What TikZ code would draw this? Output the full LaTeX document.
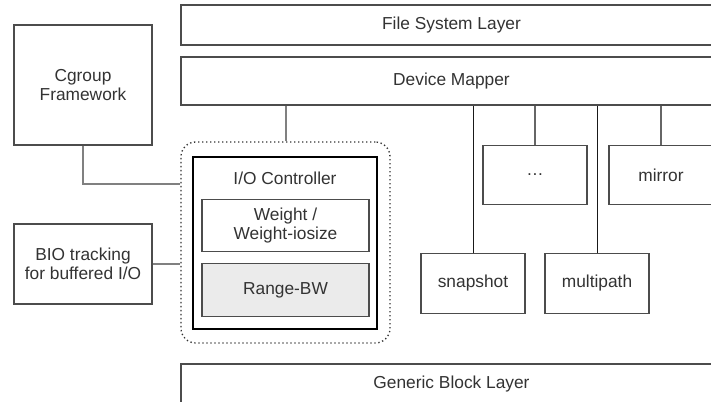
\documentclass[tikz,border=0pt]{standalone}
\usepackage{fontspec}
\setmainfont{Liberation Sans}
\usetikzlibrary{calc}

\begin{document}
\begin{tikzpicture}[
  x=0.75pt, y=-0.75pt,
  every node/.style={font=\fontsize{13}{14.3}\selectfont, text=black!80},
  box/.style={draw=black!70, line width=0.8pt, fill=white, align=center, inner sep=0pt},
  layer/.style={box, minimum width=405.75pt, minimum height=30pt},
  module/.style={box, minimum width=78pt, minimum height=44.5pt},
  policy/.style={box, minimum width=125.25pt, minimum height=39.5pt},
  link/.style={draw=black!50, line width=1.5pt},
  branch/.style={draw=black!90, line width=0.6pt},
  subbranch/.style={draw=black!60, line width=1pt}
]
  \useasboundingbox (0,0) rectangle (711,402);
  \clip (0,0) rectangle (711,402);

  \node[layer] (fs) at (451.5,25) {File System Layer};
  \node[layer, minimum height=36pt] (dm) at (451.5,81) {Device Mapper};
  \node[layer] (generic) at (451.5,384) {Generic Block Layer};

  \node[box, minimum width=103.5pt, minimum height=90pt] (cgroup) at (83,85) {Cgroup\\Framework};
  \node[box, minimum width=103.5pt, minimum height=60pt] (bio) at (83,264) {BIO tracking\\for buffered I/O};

  \node[draw=black!80, dotted, line width=1pt, rounded corners=11pt,
        minimum width=156.75pt, minimum height=150.75pt] (outer) at (285.5,242.5) {};
  \node[draw=black, line width=2.2pt, fill=white, minimum width=138pt, minimum height=129pt] (ctrl) at (285,243) {};
  \node (ctrltitle) at (285,178) {I/O Controller};
  \node[policy] (weight) at (285.5,225.5) {Weight /\\Weight-iosize};
  \node[policy, fill=black!8] (range) at (285.5,290) {Range-BW};

  \node[module] (dots) at (535,175) {\ldots};
  \node[module] (mirror) at (661,175) {mirror};
  \node[module] (snapshot) at (473,283.5) {snapshot};
  \node[module] (multipath) at (597,283.5) {multipath};

  \draw[link] (cgroup.south) |- ($(outer.north west)!0.21!(outer.south west)$);
  \draw[link] (bio.east) -- (bio.east -| outer.west);
  \draw[link] (outer.north) -- (outer.north |- dm.south);
  \draw[branch] (snapshot.north) -- (snapshot.north |- dm.south);
  \draw[branch] (multipath.north) -- (multipath.north |- dm.south);
  \draw[subbranch] (dots.north) -- (dots.north |- dm.south);
  \draw[subbranch] (mirror.north) -- (mirror.north |- dm.south);
\end{tikzpicture}
\end{document}
